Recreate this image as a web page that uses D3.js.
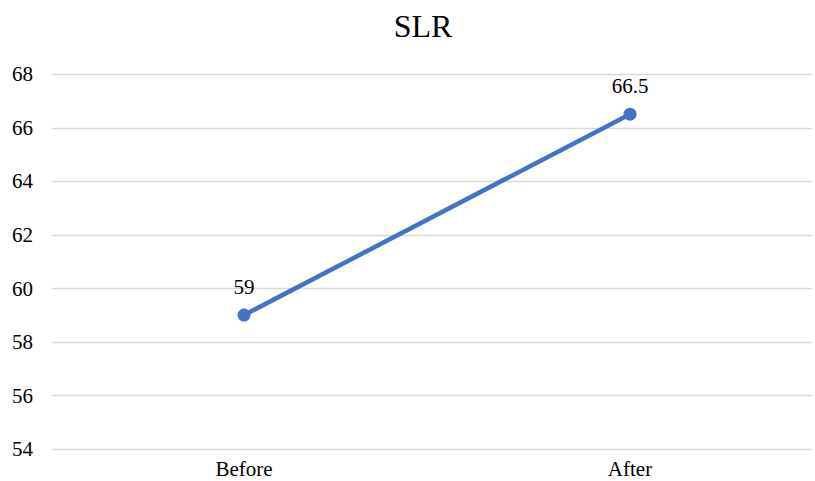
<!DOCTYPE html>
<html><head><meta charset="utf-8">
<script src="https://cdn.jsdelivr.net/npm/d3@7"></script>
<style>body{margin:0;background:#fff}svg{display:block}</style>
</head><body>
<svg id="c" width="815" height="481"></svg>
<script>
const categories = ["Before", "After"];
const values = [59, 66.5];
const yTicks = [54, 56, 58, 60, 62, 64, 66, 68];
const title = "SLR";

const svg = d3.select("#c");
const font = "'Liberation Serif','Times New Roman',serif";
const left = 52, gridRight = 812;
const x = d3.scaleBand().domain(categories).range([51, 823]);
const y = d3.scaleLinear().domain([54, 68]).range([449, 74]);

svg.append("text").attr("x", 423).attr("y", 37).attr("text-anchor", "middle")
  .attr("font-family", font).attr("font-size", 32).attr("fill", "#000").text(title);

svg.append("g").selectAll("line").data(yTicks).join("line")
  .attr("x1", left).attr("x2", gridRight)
  .attr("y1", d => Math.round(y(d)) + 0.5).attr("y2", d => Math.round(y(d)) + 0.5)
  .attr("stroke", "#d9d9d9").attr("stroke-width", 1.3);

svg.append("g").selectAll("text").data(yTicks).join("text")
  .attr("x", 33).attr("y", d => y(d)).attr("dy", "0.35em").attr("text-anchor", "end")
  .attr("font-family", font).attr("font-size", 21).attr("fill", "#000").text(d => d);

svg.append("g").selectAll("text").data(categories).join("text")
  .attr("x", d => x(d) + x.bandwidth() / 2).attr("y", 476).attr("text-anchor", "middle")
  .attr("font-family", font).attr("font-size", 21).attr("fill", "#000").text(d => d);

const pts = categories.map((c, i) => [x(c) + x.bandwidth() / 2, y(values[i])]);
svg.append("path").attr("d", d3.line()(pts)).attr("fill", "none")
  .attr("stroke", "#4472c4").attr("stroke-width", 4.5).attr("stroke-linecap", "round");
svg.append("g").selectAll("circle").data(pts).join("circle")
  .attr("cx", d => d[0]).attr("cy", d => d[1]).attr("r", 6.5).attr("fill", "#4472c4");

svg.append("g").selectAll("text").data(values).join("text")
  .attr("x", (d, i) => pts[i][0]).attr("y", (d, i) => pts[i][1] - 21)
  .attr("text-anchor", "middle").attr("font-family", font).attr("font-size", 21)
  .attr("fill", "#000").text(d => d);
</script>
</body></html>
